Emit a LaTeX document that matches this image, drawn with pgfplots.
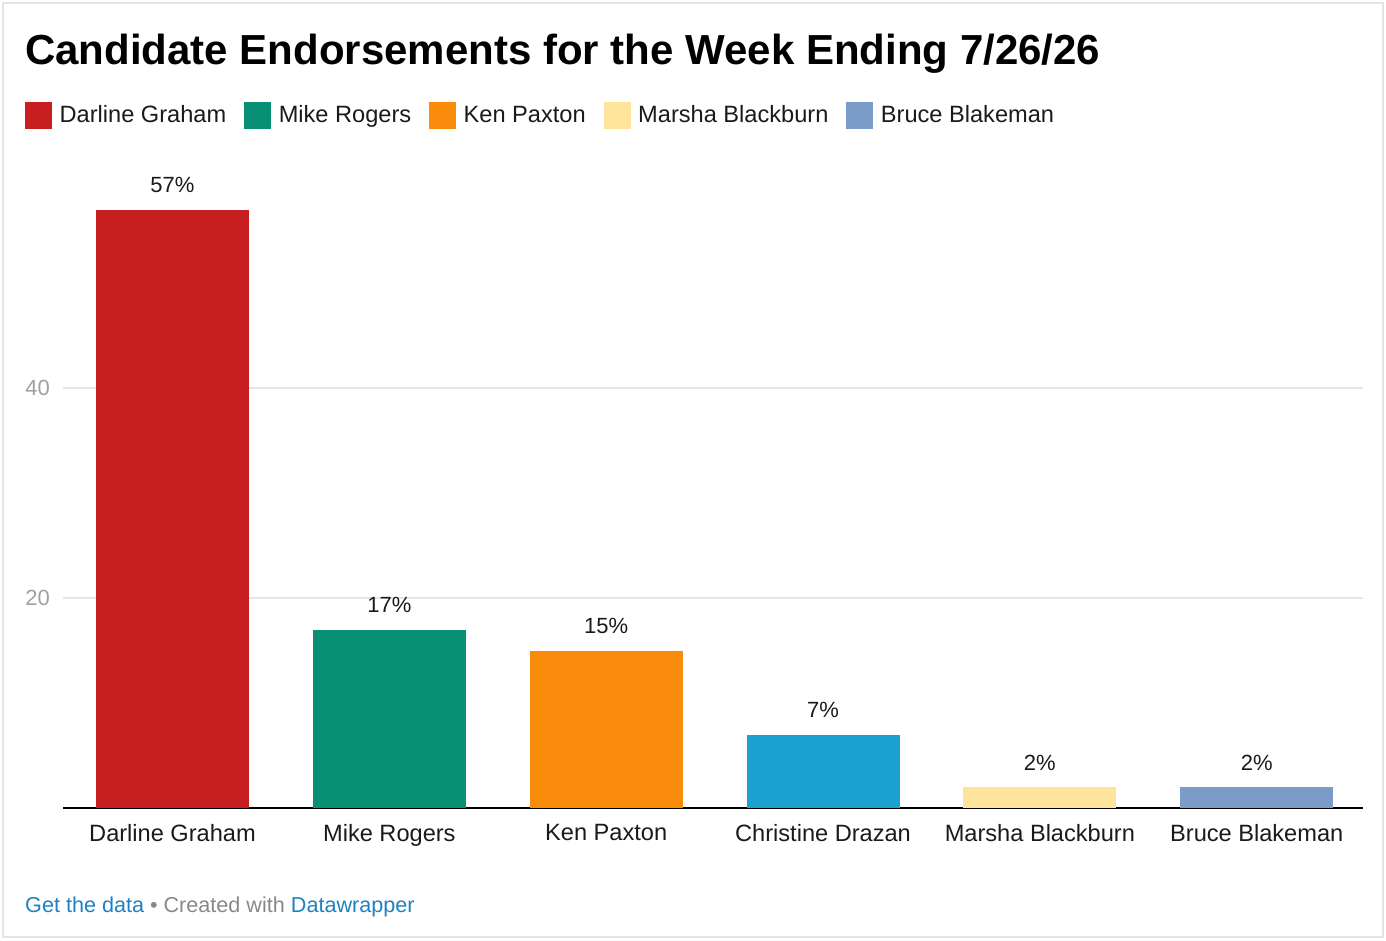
\documentclass[border=0pt]{standalone}
\usepackage{pgfplots}
\pgfplotsset{compat=1.18}
\usepackage{fontspec}
\setmainfont{Liberation Sans}
\definecolor{cRed}{HTML}{C71F1F}
\definecolor{cGreen}{HTML}{088F74}
\definecolor{cOrange}{HTML}{F98B0A}
\definecolor{cBlue}{HTML}{1BA1CF}
\definecolor{cYellow}{HTML}{FDE49A}
\definecolor{cSlate}{HTML}{7B9BC9}
\definecolor{cGrid}{HTML}{E5E5E5}
\definecolor{cTick}{HTML}{A0A0A0}
\definecolor{cLink}{HTML}{1D81C2}
\definecolor{cFoot}{HTML}{888888}
\definecolor{cText}{HTML}{1A1A1A}
\begin{document}
\begin{tikzpicture}
\useasboundingbox (0pt,0pt) rectangle (1386pt,-940pt);
\draw[gray!22, line width=2pt] (3pt,-3pt) rectangle (1383pt,-937pt);
\node[anchor=base west, inner sep=0pt, font=\fontsize{42}{50}\selectfont\bfseries] at (25pt,-64pt) {Candidate Endorsements for the Week Ending 7/26/26};
\begin{axis}[
  at={(63pt,-808pt)}, anchor=south west,
  scale only axis, width=1300pt, height=630pt,
  xmin=-0.505, xmax=5.49, ymin=0, ymax=60,
  axis line style={draw=none},
  major tick length=0pt,
  ybar, bar width=153pt, bar shift=0pt,
  xtick={0,1,2,3,4,5},
  xticklabels={Darline Graham, Mike Rogers, Ken Paxton, Christine Drazan, Marsha Blackburn, Bruce Blakeman},
  xticklabel style={font=\fontsize{23.6}{28}\selectfont, text=cText, anchor=north, inner sep=0pt, yshift=-16pt},
  ytick={20,40},
  yticklabel style={font=\fontsize{22}{26}\selectfont, text=cTick, anchor=east, inner sep=0pt, xshift=-13pt},
  /pgf/number format/assume math mode=true,
  ymajorgrids, grid style={cGrid, line width=1.2pt},
  extra y ticks={0}, extra y tick labels={},
  extra y tick style={grid style={black, line width=2pt}},
  nodes near coords={\pgfmathprintnumber{\pgfplotspointmeta}\%},
  every node near coord/.append style={font=\fontsize{22}{26}\selectfont, text=cText, anchor=base, inner sep=0pt, yshift=17pt},
  legend columns=-1,
  legend style={at={(-0.02923,1.1)}, anchor=west, draw=none, fill=none, inner sep=0pt,
    font=\fontsize{23.6}{28}\selectfont, text=cText,
    nodes={inner sep=0pt},
    /tikz/every odd column/.append style={column sep=7.5pt},
    /tikz/every even column/.append style={column sep=18pt}},
  legend image code/.code={\fill[#1] (0pt,-13.5pt) rectangle (27pt,13.5pt);},
]
\addplot[fill=cRed, draw=none] coordinates {(0,57)};
\addlegendentry{Darline Graham}
\addplot[fill=cGreen, draw=none] coordinates {(1,17)};
\addlegendentry{Mike Rogers}
\addplot[fill=cOrange, draw=none] coordinates {(2,15)};
\addlegendentry{Ken Paxton}
\addplot[fill=cBlue, draw=none, forget plot] coordinates {(3,7)};
\addplot[fill=cYellow, draw=none] coordinates {(4,2)};
\addlegendentry{Marsha Blackburn}
\addplot[fill=cSlate, draw=none] coordinates {(5,2)};
\addlegendentry{Bruce Blakeman}
\end{axis}
\node[anchor=base west, inner sep=0pt, font=\fontsize{21.6}{26}\selectfont] at (25pt,-912pt) {\textcolor{cLink}{Get the data} \textcolor{cFoot}{\textbullet\ Created with} \textcolor{cLink}{Datawrapper}};
\end{tikzpicture}
\end{document}
